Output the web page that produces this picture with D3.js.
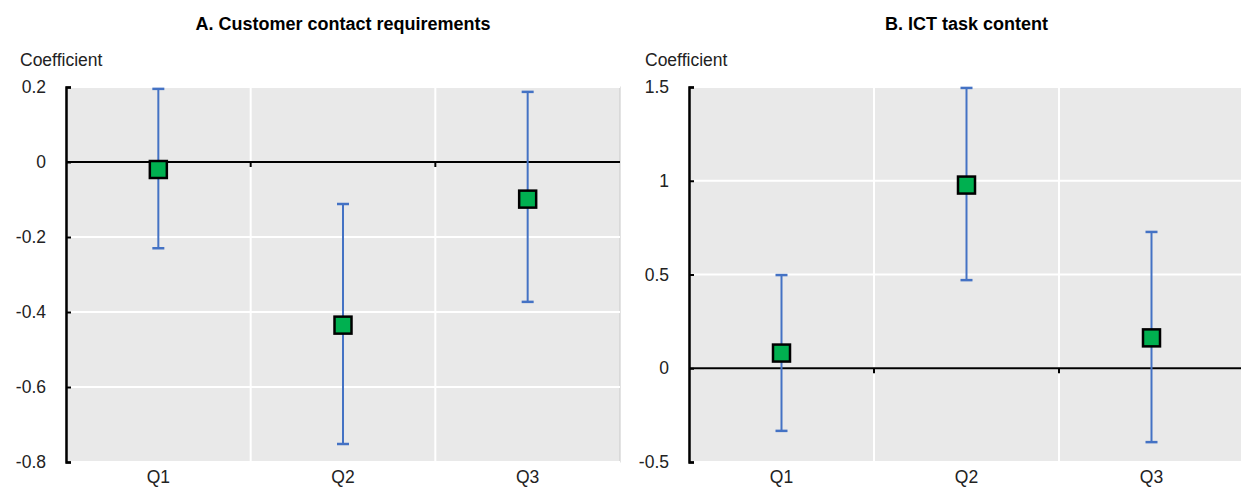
<!DOCTYPE html>
<html>
<head>
<meta charset="utf-8">
<script src="https://cdn.jsdelivr.net/npm/d3@7"></script>
<style>
  body { margin: 0; background: #fff; }
  svg { display: block; font-family: "Liberation Sans", Arial, sans-serif; }
</style>
</head>
<body>
<div id="chart"></div>
<script>
// categories and values
var categories = ['Q1', 'Q2', 'Q3'];

var contactCoef = [-0.02, -0.435, -0.099];
var contactLow = [-0.23, -0.752, -0.373];
var contactHigh = [0.195, -0.112, 0.187];

var ictCoef = [0.081, 0.977, 0.162];
var ictLow = [-0.334, 0.47, -0.394];
var ictHigh = [0.497, 1.495, 0.727];

var contactTicks = [0.2, 0, -0.2, -0.4, -0.6, -0.8];
var ictTicks = [1.5, 1, 0.5, 0, -0.5];

var svg = d3.select('#chart')
    .append('svg')
    .attr('width', 1241)
    .attr('height', 488);

function drawPanel(opts) {
    var left = opts.left, right = opts.right, top = 87, bottom = 462;

    var x = d3.scaleBand()
        .domain(categories)
        .range([left, right]);

    var y = d3.scaleLinear()
        .domain(opts.domain)
        .range([bottom, top]);

    var g = svg.append('g');

    // title
    g.append('text')
        .attr('x', (left + right) / 2)
        .attr('y', 30)
        .attr('text-anchor', 'middle')
        .style('font-size', '18px')
        .style('font-weight', 'bold')
        .text(opts.title);

    g.append('text')
        .attr('x', opts.unitX)
        .attr('y', 66)
        .style('font-size', '17.5px')
        .style('fill', '#222')
        .text('Coefficient');

    // plot background
    g.append('rect')
        .attr('x', left)
        .attr('y', top)
        .attr('width', right - left)
        .attr('height', bottom - top)
        .style('fill', '#e9e9e9')
        .style('stroke', '#c8c8c8')
        .style('stroke-width', 1);

    // horizontal grid lines
    g.selectAll('line.hgrid')
        .data(opts.ticks)
        .enter()
        .append('line')
        .attr('x1', left)
        .attr('x2', right)
        .attr('y1', function (d) { return y(d); })
        .attr('y2', function (d) { return y(d); })
        .attr('stroke', '#fff')
        .attr('stroke-width', 2);

    // vertical grid lines between categories
    g.selectAll('line.vgrid')
        .data(categories.slice(1))
        .enter()
        .append('line')
        .attr('x1', function (d) { return x(d); })
        .attr('x2', function (d) { return x(d); })
        .attr('y1', top)
        .attr('y2', bottom)
        .attr('stroke', '#fff')
        .attr('stroke-width', 2);

    // y axis
    g.append('g')
        .attr('transform', 'translate(' + left + ',0)')
        .call(d3.axisRight(y)
            .tickValues(opts.ticks)
            .tickSize(5)
            .tickFormat(''))
        .call(function (a) { a.select('.domain').attr('stroke', '#000').attr('stroke-width', 2.5); })
        .call(function (a) { a.selectAll('.tick line').attr('stroke', '#000').attr('stroke-width', 2); });

    g.selectAll('text.ylab')
        .data(opts.ticks)
        .enter()
        .append('text')
        .attr('x', left - 20)
        .attr('y', function (d) { return y(d); })
        .attr('dy', '0.35em')
        .attr('text-anchor', 'end')
        .style('font-size', '17.5px')
        .style('fill', '#222')
        .text(function (d) { return String(d); });

    // zero line with category boundary ticks
    g.append('line')
        .attr('x1', left)
        .attr('x2', right)
        .attr('y1', y(0))
        .attr('y2', y(0))
        .attr('stroke', '#000')
        .attr('stroke-width', 2);

    g.selectAll('line.ztick')
        .data(categories.slice(1))
        .enter()
        .append('line')
        .attr('x1', function (d) { return x(d); })
        .attr('x2', function (d) { return x(d); })
        .attr('y1', y(0))
        .attr('y2', y(0) + 5)
        .attr('stroke', '#000')
        .attr('stroke-width', 2);

    // category labels
    g.selectAll('text.xlab')
        .data(categories)
        .enter()
        .append('text')
        .attr('x', function (d) { return x(d) + x.bandwidth() / 2; })
        .attr('y', 483)
        .attr('text-anchor', 'middle')
        .style('font-size', '17.5px')
        .style('fill', '#222')
        .text(function (d) { return d; });

    // error bars
    var cx = function (d, i) { return x(categories[i]) + x.bandwidth() / 2; };

    g.selectAll('line.err')
        .data(opts.coef)
        .enter()
        .append('line')
        .attr('x1', cx)
        .attr('x2', cx)
        .attr('y1', function (d, i) { return y(opts.high[i]); })
        .attr('y2', function (d, i) { return y(opts.low[i]); })
        .attr('stroke', '#4472c4')
        .attr('stroke-width', 2);

    [opts.high, opts.low].forEach(function (arr) {
        g.selectAll(null)
            .data(arr)
            .enter()
            .append('line')
            .attr('x1', function (d, i) { return cx(d, i) - 6; })
            .attr('x2', function (d, i) { return cx(d, i) + 6; })
            .attr('y1', function (d) { return y(d); })
            .attr('y2', function (d) { return y(d); })
            .attr('stroke', '#4472c4')
            .attr('stroke-width', 2.5);
    });

    // markers
    g.selectAll('rect.pt')
        .data(opts.coef)
        .enter()
        .append('rect')
        .attr('x', function (d, i) { return cx(d, i) - 8.5; })
        .attr('y', function (d) { return y(d) - 8.5; })
        .attr('width', 17)
        .attr('height', 17)
        .style('fill', '#00b050')
        .attr('stroke', '#000')
        .attr('stroke-width', 2.5);
}

drawPanel({
    title: 'A. Customer contact requirements',
    left: 66, right: 620, unitX: 20,
    domain: [-0.8, 0.2], ticks: contactTicks,
    coef: contactCoef, low: contactLow, high: contactHigh
});

drawPanel({
    title: 'B. ICT task content',
    left: 689, right: 1244, unitX: 645,
    domain: [-0.5, 1.5], ticks: ictTicks,
    coef: ictCoef, low: ictLow, high: ictHigh
});
</script>
</body>
</html>
